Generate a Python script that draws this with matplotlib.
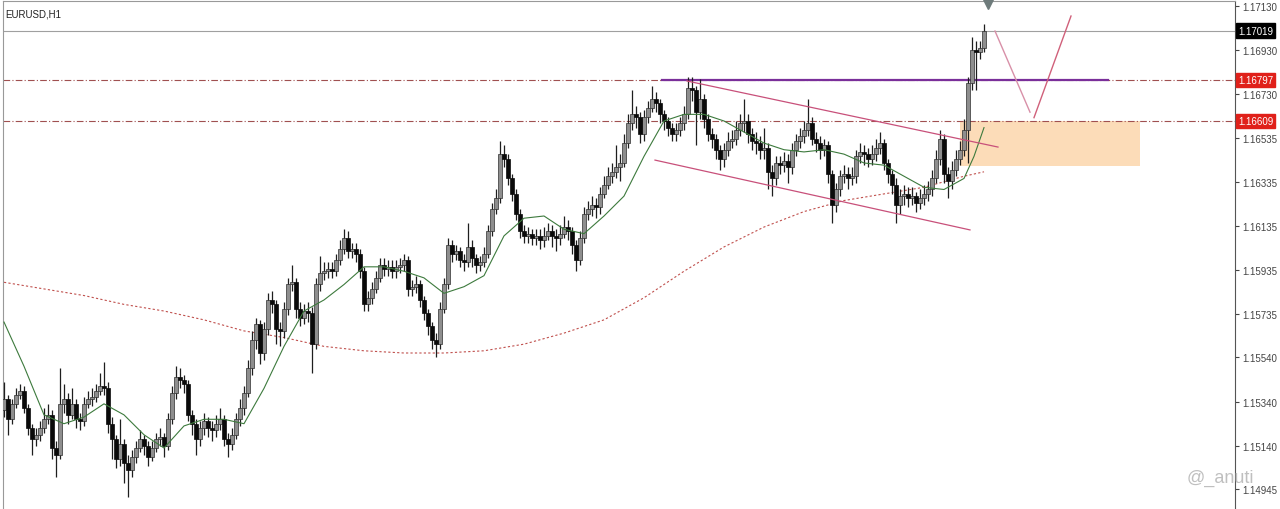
import matplotlib
matplotlib.use("Agg")
import matplotlib.pyplot as plt
import matplotlib.transforms as mtransforms
import numpy as np

# EURUSD H1 candles, open = previous close
first_open = 1.1530
closes = [
    1.1535, 1.1526, 1.1533, 1.1537, 1.1539, 1.1531, 1.1522, 1.1517, 1.1519, 1.1522,
    1.1526, 1.1528, 1.1513, 1.1510, 1.1533, 1.1535, 1.1528, 1.1533, 1.1526, 1.1525,
    1.1533, 1.1535, 1.1536, 1.1539, 1.1541, 1.1540, 1.1524, 1.1517, 1.1508, 1.1515,
    1.1506, 1.1503, 1.1509, 1.1513, 1.1517, 1.1514, 1.1509, 1.1513, 1.1517, 1.1518,
    1.1514, 1.1526, 1.1538, 1.1545, 1.1544, 1.1542, 1.1528, 1.1524, 1.1517, 1.1522,
    1.1525, 1.1522, 1.1521, 1.1524, 1.1526, 1.1517, 1.1515, 1.1519, 1.1526, 1.1531,
    1.1538, 1.1549, 1.1562, 1.1569, 1.1556, 1.1567, 1.1580, 1.1578, 1.1567, 1.1566,
    1.1576, 1.1587, 1.1588, 1.1576, 1.1572, 1.1575, 1.1574, 1.1560, 1.1587, 1.1592,
    1.1593, 1.1594, 1.1593, 1.1598, 1.1603, 1.1608, 1.1602, 1.1603, 1.1601, 1.1593,
    1.1578, 1.1581, 1.1585, 1.1590, 1.1596, 1.1594, 1.1595, 1.1593, 1.1595, 1.1596,
    1.1598, 1.1585, 1.1586, 1.1587, 1.1580, 1.1574, 1.1568, 1.1562, 1.1560, 1.1576,
    1.1587, 1.1605, 1.1601, 1.1602, 1.1598, 1.1597, 1.1604, 1.1599, 1.1596, 1.1597,
    1.1601, 1.1611, 1.1621, 1.1626, 1.1646, 1.1644, 1.1635, 1.1628, 1.1619, 1.1611,
    1.1609, 1.1610, 1.1608, 1.1609, 1.1607, 1.1609, 1.1611, 1.1609, 1.1608, 1.1610,
    1.1613, 1.1611, 1.1605, 1.1598, 1.1608, 1.1619, 1.1621, 1.1623, 1.1622, 1.1628,
    1.1632, 1.1636, 1.1638, 1.1640, 1.1642, 1.1651, 1.1660, 1.1664, 1.1663, 1.1655,
    1.1663, 1.1667, 1.1671, 1.1669, 1.1664, 1.1661, 1.1658, 1.1655, 1.1657, 1.1660,
    1.1664, 1.1676, 1.1675, 1.1665, 1.1671, 1.1662, 1.1655, 1.1653, 1.1648, 1.1644,
    1.1648, 1.1652, 1.1653, 1.1657, 1.1660, 1.1661, 1.1655, 1.1652, 1.1651, 1.1648,
    1.1649, 1.1638, 1.1635, 1.1642, 1.1641, 1.1643, 1.1640, 1.1648, 1.1652, 1.1654,
    1.1657, 1.1660, 1.1653, 1.1651, 1.1648, 1.1650, 1.1637, 1.1623, 1.1630, 1.1636,
    1.1637, 1.1635, 1.1636, 1.1645, 1.1647, 1.1646, 1.1644, 1.1646, 1.1649, 1.1651,
    1.1642, 1.1637, 1.1632, 1.1623, 1.1627, 1.1628, 1.1626, 1.1627, 1.1624, 1.1626,
    1.1628, 1.1630, 1.1635, 1.1644, 1.1653, 1.1637, 1.1634, 1.1639, 1.1644, 1.1648,
    1.1657, 1.1678, 1.1693, 1.1692, 1.1694, 1.17019,
]
highs = [
    1.1543, 1.1537, 1.1535, 1.1540, 1.1542, 1.1541, 1.1533, 1.1524, 1.1522, 1.1525,
    1.1531, 1.1533, 1.1530, 1.1516, 1.1549, 1.1542, 1.1538, 1.1540, 1.1535, 1.1529,
    1.1536, 1.1539, 1.1540, 1.1542, 1.1547, 1.1552, 1.1543, 1.1527, 1.1519, 1.1526,
    1.1517, 1.1510, 1.1512, 1.1516, 1.1521, 1.1519, 1.1516, 1.1516, 1.1520, 1.1522,
    1.1520, 1.1529, 1.1541, 1.1550, 1.1549, 1.1546, 1.1544, 1.1530, 1.1526, 1.1525,
    1.1529, 1.1527, 1.1525, 1.1528, 1.1531, 1.1528, 1.1520, 1.1522, 1.1529, 1.1535,
    1.1541, 1.1553, 1.1566, 1.1572, 1.1571, 1.1570, 1.1583, 1.1584, 1.1580, 1.1570,
    1.1579, 1.1590, 1.1596, 1.1590, 1.1579, 1.1578, 1.1579, 1.1577, 1.1590, 1.1600,
    1.1597, 1.1597, 1.1597, 1.1601, 1.1607, 1.1612, 1.1611, 1.1606, 1.1606, 1.1603,
    1.1595, 1.1584, 1.1588, 1.1593, 1.1599, 1.1599, 1.1598, 1.1598, 1.1598, 1.1599,
    1.1601, 1.1600, 1.1589, 1.1591, 1.1589, 1.1582, 1.1576, 1.1570, 1.1565, 1.1579,
    1.1590, 1.1608, 1.1607, 1.1605, 1.1604, 1.1601, 1.1615, 1.1607, 1.1601, 1.1600,
    1.1604, 1.1614, 1.1624, 1.1630, 1.1652, 1.1650, 1.1646, 1.1637, 1.1630, 1.1621,
    1.1614, 1.1613, 1.1612, 1.1612, 1.1612, 1.1613, 1.1615, 1.1614, 1.1612, 1.1614,
    1.1618, 1.1616, 1.1613, 1.1607, 1.1611, 1.1622, 1.1625, 1.1627, 1.1626, 1.1631,
    1.1636, 1.1640, 1.1642, 1.1650, 1.1646, 1.1655, 1.1664, 1.1675, 1.1668, 1.1665,
    1.1666, 1.1670, 1.1677, 1.1674, 1.1671, 1.1666, 1.1663, 1.1660, 1.1660, 1.1663,
    1.1668, 1.1681, 1.1681, 1.1677, 1.1680, 1.1673, 1.1664, 1.1658, 1.1655, 1.1650,
    1.1651, 1.1656, 1.1657, 1.1661, 1.1664, 1.1671, 1.1664, 1.1658, 1.1656, 1.1654,
    1.1658, 1.1651, 1.1641, 1.1645, 1.1645, 1.1647, 1.1646, 1.1651, 1.1655, 1.1658,
    1.1661, 1.1671, 1.1663, 1.1656, 1.1654, 1.1653, 1.1652, 1.1639, 1.1633, 1.1639,
    1.1641, 1.1640, 1.1640, 1.1648, 1.1651, 1.1650, 1.1649, 1.1650, 1.1653, 1.1656,
    1.1653, 1.1644, 1.1639, 1.1635, 1.1630, 1.1632, 1.1631, 1.1631, 1.1629, 1.1630,
    1.1632, 1.1634, 1.1639, 1.1648, 1.1657, 1.1655, 1.1640, 1.1643, 1.1648, 1.1652,
    1.1662, 1.1681, 1.1699, 1.1697, 1.1697, 1.1705,
]
lows = [
    1.1527, 1.1519, 1.1524, 1.1531, 1.1535, 1.1529, 1.1519, 1.1510, 1.1514, 1.1516,
    1.1520, 1.1524, 1.1508, 1.1500, 1.1508, 1.1529, 1.1524, 1.1526, 1.1522, 1.1521,
    1.1523, 1.1531, 1.1532, 1.1534, 1.1537, 1.1537, 1.1520, 1.1508, 1.1504, 1.1505,
    1.1497, 1.1491, 1.1500, 1.1506, 1.1511, 1.1510, 1.1505, 1.1507, 1.1511, 1.1514,
    1.1509, 1.1512, 1.1524, 1.1535, 1.1540, 1.1538, 1.1525, 1.1519, 1.1510, 1.1514,
    1.1519, 1.1518, 1.1516, 1.1518, 1.1521, 1.1514, 1.1509, 1.1512, 1.1517, 1.1523,
    1.1528, 1.1536, 1.1546, 1.1558, 1.1551, 1.1553, 1.1564, 1.1574, 1.1560, 1.1559,
    1.1563, 1.1573, 1.1584, 1.1572, 1.1568, 1.1569, 1.1570, 1.1547, 1.1558, 1.1584,
    1.1589, 1.1590, 1.1590, 1.1591, 1.1596, 1.1601, 1.1599, 1.1599, 1.1597, 1.1590,
    1.1575, 1.1575, 1.1578, 1.1583, 1.1588, 1.1591, 1.1591, 1.1590, 1.1590, 1.1592,
    1.1593, 1.1582, 1.1582, 1.1583, 1.1577, 1.1571, 1.1564, 1.1558, 1.1554, 1.1558,
    1.1574, 1.1585, 1.1597, 1.1598, 1.1595, 1.1593, 1.1595, 1.1595, 1.1592, 1.1593,
    1.1595, 1.1599, 1.1609, 1.1619, 1.1624, 1.1640, 1.1632, 1.1625, 1.1616, 1.1608,
    1.1606, 1.1606, 1.1605, 1.1605, 1.1603, 1.1604, 1.1607, 1.1604, 1.1602, 1.1605,
    1.1608, 1.1607, 1.1601, 1.1593, 1.1596, 1.1606, 1.1616, 1.1618, 1.1617, 1.1619,
    1.1626, 1.1630, 1.1633, 1.1635, 1.1634, 1.1640, 1.1649, 1.1657, 1.1658, 1.1651,
    1.1652, 1.1660, 1.1665, 1.1665, 1.1660, 1.1657, 1.1654, 1.1652, 1.1652, 1.1654,
    1.1657, 1.1662, 1.1670, 1.1650, 1.1662, 1.1658, 1.1652, 1.1649, 1.1644, 1.1639,
    1.1640, 1.1645, 1.1649, 1.1650, 1.1654, 1.1656, 1.1651, 1.1648, 1.1646, 1.1644,
    1.1644, 1.1630, 1.1627, 1.1632, 1.1637, 1.1638, 1.1633, 1.1637, 1.1645, 1.1649,
    1.1651, 1.1654, 1.1650, 1.1647, 1.1644, 1.1645, 1.1633, 1.1615, 1.1620, 1.1627,
    1.1633, 1.1630, 1.1632, 1.1633, 1.1642, 1.1641, 1.1640, 1.1641, 1.1643, 1.1646,
    1.1639, 1.1633, 1.1628, 1.1615, 1.1619, 1.1623, 1.1622, 1.1623, 1.1620, 1.1621,
    1.1623, 1.1625, 1.1627, 1.1633, 1.1641, 1.1633, 1.1626, 1.1630, 1.1636, 1.1641,
    1.1645, 1.1642, 1.1675, 1.1675, 1.1689, 1.1692,
]

# moving averages as drawn on the chart (sampled along the bars)
fast_ma_idx = list(range(0, 241, 5)) + [242.5, 245]
fast_ma = [
    1.1570, 1.1550, 1.1528, 1.1524, 1.1527, 1.1533, 1.1528, 1.1519, 1.1513, 1.1523,
    1.1526, 1.1526, 1.1524, 1.1540, 1.1559, 1.1575, 1.1580, 1.1587, 1.1595, 1.1595,
    1.1593, 1.1590, 1.1583, 1.1586, 1.1591, 1.1609, 1.1617, 1.1618, 1.1612, 1.1610,
    1.1618, 1.1627, 1.1645, 1.1661, 1.1664, 1.1664, 1.1661, 1.1656, 1.1651, 1.1648,
    1.1647, 1.1648, 1.1646, 1.1642, 1.1641, 1.1636, 1.1631, 1.1630, 1.1635, 1.1645,
    1.1658,
]
slow_ma_idx = list(range(0, 241, 10)) + [245]
slow_ma = [
    1.1588, 1.1585, 1.1582, 1.1578, 1.1575, 1.1571, 1.1566, 1.1563, 1.1559, 1.1557,
    1.1556, 1.1556, 1.1557, 1.1560, 1.1565, 1.1571, 1.1581, 1.1593, 1.1604, 1.1613,
    1.1620, 1.1625, 1.1628, 1.1631, 1.1636, 1.1638,
]

current_price = 1.17019
levels = [1.16797, 1.16609]
y_ticks = [1.17130, 1.16930, 1.16730, 1.16535, 1.16335, 1.16135,
           1.15935, 1.15735, 1.15540, 1.15340, 1.15140, 1.14945]

# drawn objects (bar index, price)
channel_upper = ([170.75, 248.5], [1.16791, 1.16492])
channel_lower = ([162.75, 241.5], [1.16433, 1.16117])
resistance = ([164.5, 276.0], [1.16797, 1.16797])
zone_x = (239.0, 284.0)
zone_y = (1.16406, 1.16609)
path_down = ([247.75, 256.5], [1.17017, 1.16650])
path_up = ([257.5, 266.75], [1.16625, 1.17085])

plt.rcParams['font.family'] = ['Liberation Sans', 'DejaVu Sans']

fig = plt.figure(figsize=(12.8, 5.1), dpi=100)
ax = fig.add_axes([3 / 1280, 0, 1232 / 1280, 508 / 510])
ax.set_xlim(-0.25, 307.75)
ax.set_ylim(1.14854, 1.17153)

opens = [first_open] + closes[:-1]
o = np.array(opens)
c = np.array(closes)
idx = np.arange(len(closes))
top = np.maximum(o, c)
bot = np.minimum(o, c)
h = np.maximum(np.array(highs), top)
l = np.minimum(np.array(lows), bot)

ax.vlines(idx, l, h, color='#1e1e1e', lw=0.9, zorder=3)
up = c >= o
body = np.maximum(top - bot, 0.00002)
ax.bar(idx[up], body[up], bottom=bot[up], width=0.8, color='#8e8e8e',
       edgecolor='#2e2e2e', lw=0.5, zorder=4)
ax.bar(idx[~up], body[~up], bottom=bot[~up], width=0.8, color='#0a0a0a',
       edgecolor='#0a0a0a', lw=0.5, zorder=4)

ax.plot(fast_ma_idx, fast_ma, color='#3d7a3d', lw=0.8, zorder=5)
ax.plot(slow_ma_idx, slow_ma, color='#c0504d', lw=0.8, ls=(0, (2, 2)), zorder=2)

# level lines
ax.axhline(current_price, color='#a0a0a0', lw=0.8, zorder=1)
for lv in levels:
    ax.axhline(lv, color='#a05050', lw=0.8, ls=(0, (6, 2, 1, 2)), zorder=1)

ax.plot(*resistance, color='#7a2f9a', lw=1.6, zorder=2)
ax.plot(*channel_upper, color='#c8507a', lw=0.9, zorder=6)
ax.plot(*channel_lower, color='#c8507a', lw=0.9, zorder=6)
ax.fill_between(zone_x, zone_y[0], zone_y[1], color='#fcdcb8', lw=0, zorder=0)
ax.plot(*path_down, color='#d890a8', lw=1.0, zorder=6)
ax.plot(*path_up, color='#d0607a', lw=1.0, zorder=6)

ax.plot([246], [1.17140], marker='v', color='#6e7b7b', markersize=7,
        clip_on=False, zorder=7)

# axis styling
ax.set_xticks([])
ax.yaxis.tick_right()
ax.set_yticks(y_ticks)
ax.set_yticklabels([f'{v:.5f}' for v in y_ticks])
ax.tick_params(axis='y', direction='out', length=3, width=0.8, colors='#444444',
               labelsize=7, pad=2)
ax.spines['bottom'].set_visible(False)
ax.spines['left'].set_color('#999999')
ax.spines['top'].set_color('#999999')
ax.spines['right'].set_color('#555555')

trans = mtransforms.blended_transform_factory(ax.transAxes, ax.transData)
boxes = [(current_price, '#000000'), (levels[0], '#e0201a'), (levels[1], '#e0201a')]
for val, col in boxes:
    ax.text(1.0025, val, f'{val:.5f}', transform=trans, fontsize=7, color='white',
            va='center', ha='left',
            bbox=dict(boxstyle='square,pad=0.22', fc=col, ec=col), zorder=8)

ax.text(0.002, 0.985, 'EURUSD,H1', transform=ax.transAxes, fontsize=7,
        color='#222222', va='top', ha='left')

fig.text(1220 / 1280, 1 - 478 / 510, '@_anuti', fontsize=13, color='#b0b0b0',
         ha='center', va='center', alpha=0.8)

fig.savefig('out.png', dpi=100, facecolor='white')
